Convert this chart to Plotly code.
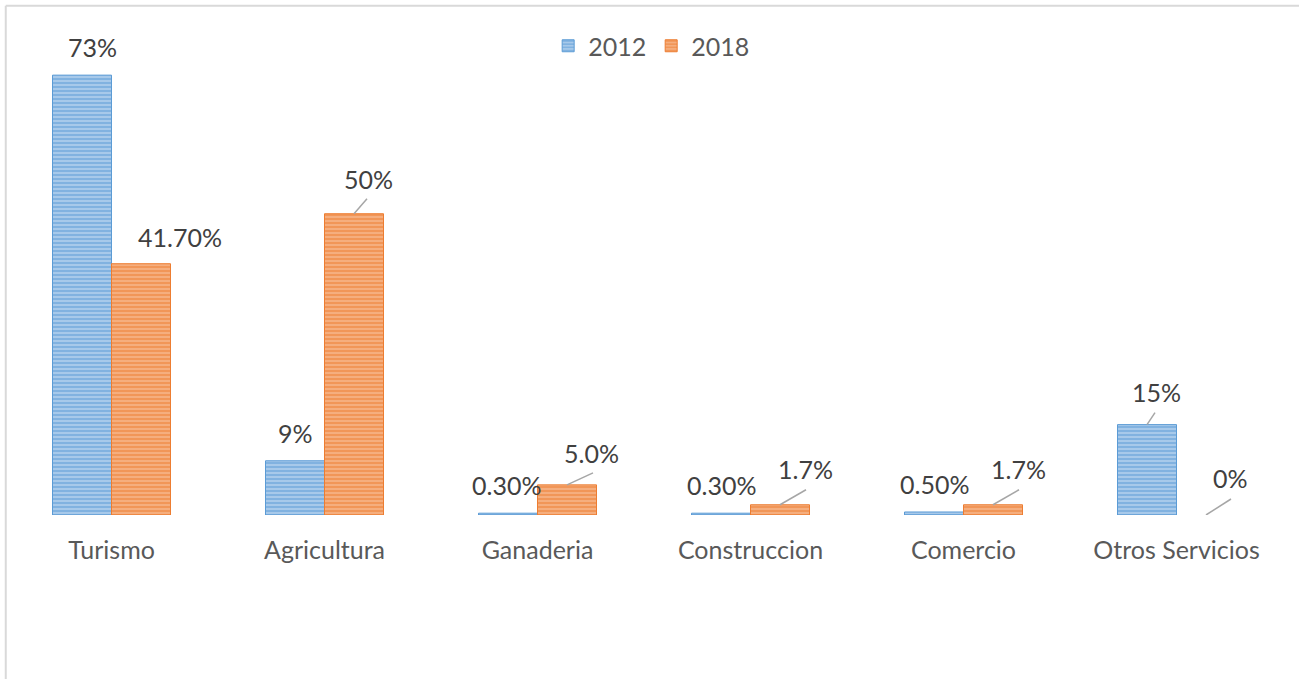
import plotly.graph_objects as go

categories = ["Turismo", "Agricultura", "Ganaderia", "Construccion", "Comercio", "Otros Servicios"]
values_2012 = [73, 9, 0.3, 0.3, 0.5, 15]
values_2018 = [41.7, 50, 5.0, 1.7, 1.7, 0]
labels_2012 = ["73%", "9%", "0.30%", "0.30%", "0.50%", "15%"]
labels_2018 = ["41.70%", "50%", "5.0%", "1.7%", "1.7%", "0%"]

# label placement: (label dx, label dy, leader end dx, leader end dy) in pixels from bar top
offsets_2012 = [(10, -28, None, None), (0, -28, None, None), (-2, -28, None, None),
                (0, -28, None, None), (0, -28, None, None), (9, -33, 8, -12)]
offsets_2018 = [(39, -27, None, None), (14, -35, 13, -15), (24, -32, 26, -12),
                (25, -36, 26, -15), (25, -36, 26, -15), (24, -37, 25, -16)]

BLUE = "#5B9BD5"
ORANGE = "#ED7D31"
FONT = "Lato"
FS = 25
BARGAP = 0.446

def edge_widths(vals):
    return [0 if v == 0 else 1 for v in vals]

fig = go.Figure()
fig.add_trace(go.Bar(
    name="2012", x=categories, y=values_2012,
    marker=dict(color="#9DC3E6", line=dict(color=BLUE, width=edge_widths(values_2012)),
                pattern=dict(shape="-", fgcolor=BLUE, bgcolor="#A7C9EA", size=4, solidity=0.5)),
))
fig.add_trace(go.Bar(
    name="2018", x=categories, y=values_2018,
    marker=dict(color="#F4B183", line=dict(color=ORANGE, width=edge_widths(values_2018)),
                pattern=dict(shape="-", fgcolor=ORANGE, bgcolor="#F5AE7E", size=4, solidity=0.5)),
))

half = (1 - BARGAP) / 4.0
annotations = []
shapes = [
    dict(type="line", xref="paper", yref="paper", x0=0.0006, x1=0.0006, y0=-0.5, y1=1.0835,
         line=dict(color="#D9D9D9", width=2)),
    dict(type="line", xref="paper", yref="paper", x0=0.0006, x1=1.05, y0=1.0835, y1=1.0835,
         line=dict(color="#D9D9D9", width=2)),
]
for vals, labs, offs, sign in [(values_2012, labels_2012, offsets_2012, -1), (values_2018, labels_2018, offsets_2018, 1)]:
    for i, (v, lab, (dx, dy, lx, ly)) in enumerate(zip(vals, labs, offs)):
        xpos = i + sign * half
        annotations.append(dict(
            x=xpos, y=v, xref="x", yref="y", text=lab, showarrow=False,
            xshift=dx, yshift=-dy, font=dict(family=FONT, size=FS, color="#404040"),
        ))
        if lx is not None:
            shapes.append(dict(
                type="line", xref="x", yref="y", xsizemode="pixel", ysizemode="pixel",
                xanchor=xpos, yanchor=v, x0=0, y0=0, x1=lx, y1=-ly,
                line=dict(color="#A6A6A6", width=1.5),
            ))

fig.update_layout(
    width=1299, height=679,
    margin=dict(l=5, r=16, t=45, b=164, autoexpand=False),
    paper_bgcolor="white", plot_bgcolor="white",
    barmode="group", bargap=BARGAP, bargroupgap=0,
    font=dict(family=FONT, size=FS, color="#595959"),
    showlegend=True,
    legend=dict(orientation="h", x=0.506, xanchor="center", yref="container",
                y=1 - 46 / 679, yanchor="middle",
                font=dict(family=FONT, size=FS, color="#595959"), traceorder="normal"),
    xaxis=dict(type="category", showgrid=False, showline=False, zeroline=False,
               ticks="", ticklabelstandoff=18,
               tickfont=dict(family=FONT, size=FS, color="#595959")),
    yaxis=dict(range=[0, 78], visible=False, showgrid=False, zeroline=False),
    annotations=annotations,
    shapes=shapes,
)

fig.write_html("out.html", config={"displayModeBar": False},
               post_script="document.body.style.margin='0';document.body.style.overflow='hidden';")
